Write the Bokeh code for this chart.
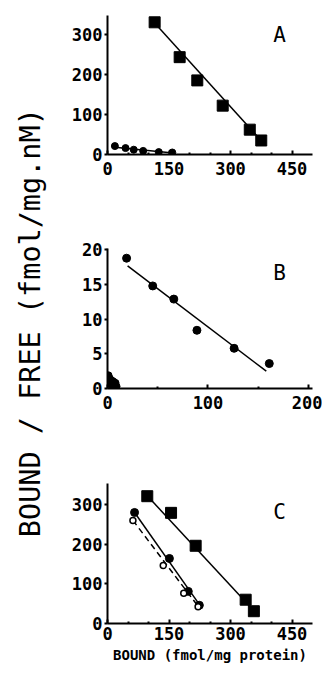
import math
from bokeh.plotting import figure
from bokeh.layouts import row, column
from bokeh.models import Range1d, Label, FixedTicker
from bokeh.embed import file_html
from bokeh.resources import INLINE

# ---- data ----
a_sq_x = [115, 176, 219, 281, 347, 375]
a_sq_y = [330, 243, 185, 122, 62, 35]
a_sq_fit_x = [115, 372]
a_sq_fit_y = [328, 38]
a_ci_x = [18, 44, 64, 87, 125, 158]
a_ci_y = [21, 16, 12, 9, 6, 5]
a_ci_fit_x = [18, 160]
a_ci_fit_y = [18, 4]

b_ci_x = [19, 45, 66, 89, 126, 161]
b_ci_y = [18.8, 14.8, 12.9, 8.4, 5.8, 3.6]
b_fit_x = [20, 158]
b_fit_y = [17.7, 2.5]
b_small_x = [1, 2, 4, 6, 8, 3, 5, 9]
b_small_y = [1.9, 1.5, 1.2, 1.0, 0.8, 0.6, 0.4, 0.3]

c_sq_x = [97, 155, 215, 337, 357]
c_sq_y = [321, 279, 196, 60, 31]
c_sq_fit_x = [97, 357]
c_sq_fit_y = [322, 32]
c_fc_x = [66, 151, 197, 224]
c_fc_y = [280, 164, 81, 46]
c_fc_fit_x = [66, 226]
c_fc_fit_y = [280, 45]
c_oc_x = [62, 136, 186, 221]
c_oc_y = [260, 146, 76, 42]
c_oc_fit_x = [62, 222]
c_oc_fit_y = [260, 42]

ticks_x_ac = [0, 150, 300, 450]
ticks_y_ac = [0, 100, 200, 300]
ticks_x_b = [0, 100, 200]
ticks_y_b = [0, 5, 10, 15, 20]

y_title = "BOUND / FREE   (fmol/mg.nM)"
x_title = "BOUND (fmol/mg protein)"

MONO = "'DejaVu Sans Mono', 'Liberation Mono', monospace"


def panel(height, top, bottom, xr, yr, xt, yt, xminor):
    p = figure(width=262, height=height, output_backend="svg", toolbar_location=None,
               x_range=Range1d(*xr), y_range=Range1d(*yr),
               min_border_left=47, min_border_right=10,
               min_border_top=top, min_border_bottom=bottom)
    p.outline_line_color = None
    p.grid.visible = False
    p.background_fill_color = "white"
    p.border_fill_color = "white"
    p.xaxis.ticker = FixedTicker(ticks=xt, minor_ticks=xminor)
    p.yaxis.ticker = FixedTicker(ticks=yt, minor_ticks=[])
    for ax in (p.xaxis[0], p.yaxis[0]):
        ax.axis_line_width = 2
        ax.axis_line_color = "black"
        ax.major_tick_line_width = 2
        ax.minor_tick_line_width = 2
        ax.major_label_text_font = MONO
        ax.major_label_text_font_style = "bold"
        ax.major_label_text_font_size = "17px"
        ax.major_label_text_color = "black"
    p.xaxis.major_tick_in = 4
    p.xaxis.major_tick_out = 0
    p.xaxis.minor_tick_in = 2
    p.xaxis.minor_tick_out = 0
    p.xaxis.major_label_standoff = 7
    p.yaxis.major_tick_in = 0
    p.yaxis.major_tick_out = 3
    p.yaxis.minor_tick_in = 0
    p.yaxis.minor_tick_out = 0
    p.yaxis.major_label_standoff = 2
    return p


def tag(p, t, y):
    p.add_layout(Label(x=172, y=y, x_units="screen", y_units="screen", text=t,
                       text_font=MONO, text_font_size="21px",
                       text_color="black", text_align="center", text_baseline="middle"))


# Panel A
pa = panel(225, 15, 71, (0, 500), (0, 347), ticks_x_ac, ticks_y_ac,
           [50, 100, 200, 250, 350, 400])
pa.line(a_sq_fit_x, a_sq_fit_y, line_color="black", line_width=1.5)
pa.line(a_ci_fit_x, a_ci_fit_y, line_color="black", line_width=1.5)
pa.scatter(a_sq_x, a_sq_y, marker="square", size=11, color="black")
pa.scatter(a_ci_x, a_ci_y, marker="circle", size=7, color="black")
tag(pa, "A", 120)

# Panel B
pb = panel(230, 23, 67, (0, 204), (0, 20.2), ticks_x_b, ticks_y_b, [50, 150])
pb.line(b_fit_x, b_fit_y, line_color="black", line_width=1.5)
pb.scatter(b_ci_x, b_ci_y, marker="circle", size=8, color="black")
pb.scatter(b_small_x, b_small_y, marker="circle", size=7, color="black")
tag(pb, "B", 116)

# Panel C
pc = panel(222, 28, 54, (0, 500), (0, 353), ticks_x_ac, ticks_y_ac,
           [50, 100, 200, 250, 350, 400])
pc.line(c_sq_fit_x, c_sq_fit_y, line_color="black", line_width=1.5)
pc.line(c_fc_fit_x, c_fc_fit_y, line_color="black", line_width=1.5)
pc.line(c_oc_fit_x, c_oc_fit_y, line_color="black", line_width=1.5, line_dash="6 4")
pc.scatter(c_sq_x, c_sq_y, marker="square", size=11, color="black")
pc.scatter(c_fc_x, c_fc_y, marker="circle", size=8, color="black")
pc.scatter(c_oc_x, c_oc_y, marker="circle", size=6, fill_color="white",
           line_color="black", line_width=1.5)
pc.xaxis.axis_label = x_title
pc.xaxis.axis_label_text_font = MONO
pc.xaxis.axis_label_text_font_style = "bold"
pc.xaxis.axis_label_text_font_size = "14px"
pc.xaxis.axis_label_text_color = "black"
pc.xaxis.axis_label_standoff = 4
pc.xaxis.major_label_standoff = 3
tag(pc, "C", 112)

# Y title column
pt = figure(width=60, height=677, output_backend="svg", toolbar_location=None,
            x_range=Range1d(0, 60), y_range=Range1d(0, 677),
            min_border=0)
pt.axis.visible = False
pt.grid.visible = False
pt.outline_line_color = None
pt.add_layout(Label(x=30, y=372, x_units="screen", y_units="screen", text=y_title,
                    angle=math.pi / 2, text_font=MONO,
                    text_font_size="28.5px", text_align="center", text_baseline="middle",
                    text_color="black"))

layout = row(pt, column(pa, pb, pc, spacing=0), spacing=0)
html = file_html(layout, INLINE)
html = html.replace("<head>", "<head><style>html,body{margin:0;padding:0;}</style>", 1)
open("out.html", "w").write(html)
